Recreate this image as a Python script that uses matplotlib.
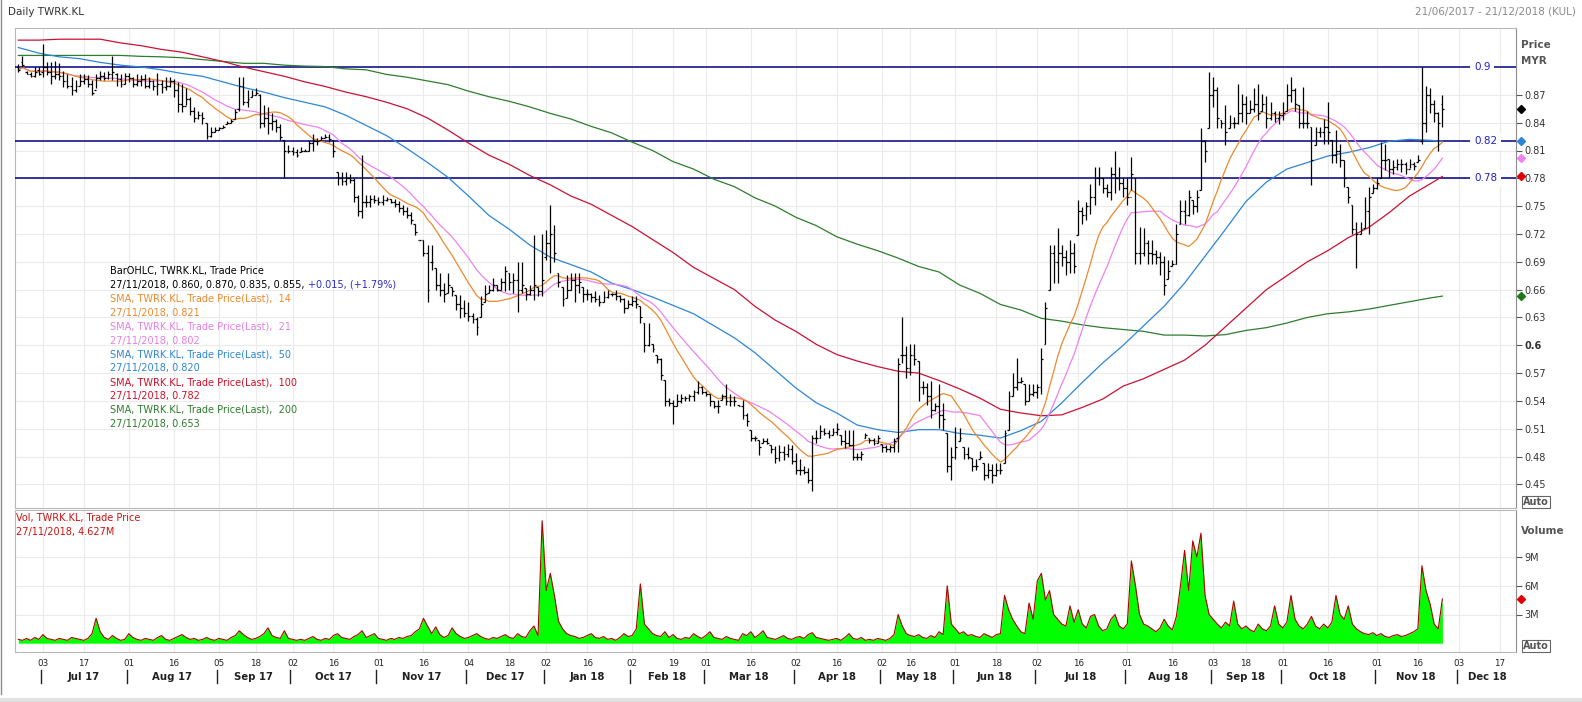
import numpy as np
import pandas as pd
import matplotlib
matplotlib.use("Agg")
import matplotlib.pyplot as plt
from matplotlib.collections import LineCollection
from matplotlib.lines import Line2D
import matplotlib.transforms as mtransforms

plt.rcParams['font.family'] = ['DejaVu Sans']

# ---------------- data ----------------
start_date = "2017-06-21"
axis_end_date = "2018-12-21"
holidays = ["2017-06-26", "2017-06-27", "2017-08-31", "2017-09-01", "2017-09-04",
            "2017-09-22", "2017-10-18", "2017-12-01", "2017-12-25", "2018-01-01",
            "2018-01-31", "2018-02-01", "2018-02-16", "2018-05-01", "2018-05-09",
            "2018-05-10", "2018-05-11", "2018-05-29", "2018-06-15", "2018-08-22",
            "2018-08-31", "2018-09-10", "2018-09-11", "2018-09-17", "2018-11-06",
            "2018-11-20"]

opens = [
    .900, .905, .895, .893, .890, .897, .895, .900, .895, .890,
    .893, .890, .885, .880, .875, .880, .885, .887, .882, .875,
    .888, .890, .888, .893, .893, .887, .882, .890, .888, .882,
    .885, .887, .880, .885, .880, .882, .878, .880, .885, .875,
    .860, .858, .865, .853, .845, .848, .840, .826, .830, .832,
    .834, .839, .840, .844, .855, .880, .862, .868, .870, .870,
    .840, .845, .840, .842, .835, .821, .810, .810, .808, .808,
    .810, .810, .818, .820, .821, .823, .825, .821, .787, .780,
    .777, .780, .778, .760, .745, .755, .755, .758, .757, .755,
    .757, .758, .755, .752, .748, .745, .740, .731, .714, .714,
    .700, .690, .683, .665, .660, .656, .663, .654, .645, .640,
    .635, .632, .628, .631, .647, .656, .660, .665, .660, .668,
    .678, .668, .670, .660, .662, .655, .660, .663, .658, .695,
    .710, .720, .678, .663, .651, .660, .670, .665, .663, .655,
    .655, .652, .650, .647, .652, .655, .655, .653, .650, .640,
    .645, .648, .642, .624, .600, .601, .590, .585, .563, .540,
    .538, .535, .540, .543, .543, .545, .550, .555, .550, .548,
    .540, .535, .541, .545, .540, .540, .536, .535, .525,
    .509, .500, .498, .495, .497, .493, .488, .478, .485, .483,
    .488, .475, .465, .465, .463, .455, .500, .500, .508, .505,
    .503, .507, .503, .497, .495, .493, .480, .480, .500, .500,
    .498, .495, .494, .490, .488, .490, .500, .590, .590, .575,
    .590, .583, .555, .555, .545, .530, .535, .525, .505, .470,
    .480, .497, .490, .483, .479, .470, .477, .473, .460, .465,
    .460, .465, .473, .509, .545, .555, .560, .558, .540, .548,
    .550, .555, .601, .660, .700, .690, .700, .695, .690, .700,
    .719, .745, .740, .750, .760, .780, .780, .770, .765, .785,
    .780, .775, .770, .760, .780, .700, .700, .710, .700, .698,
    .695, .690, .671, .685, .688, .731, .745, .740, .757, .750,
    .767, .820, .834, .870, .875, .843, .840, .834, .840, .840,
    .850, .860, .850, .855, .860, .853, .860, .845, .850, .845,
    .848, .853, .870, .875, .859, .840, .840, .835, .816, .830,
    .830, .835, .821, .805, .810, .800, .771, .751, .725, .720,
    .726, .745, .764, .770, .780, .800, .801, .790, .792, .795,
    .795, .790, .795, .798, .820, .840, .870, .860, .850, .860]

highs = [
    .903, .912, .896, .895, .900, .900, .925, .905, .905, .907,
    .904, .896, .893, .889, .886, .893, .893, .891, .886, .893,
    .896, .895, .896, .912, .894, .893, .894, .894, .889, .893,
    .891, .893, .889, .886, .894, .886, .889, .889, .887, .884,
    .882, .877, .868, .857, .853, .852, .840, .835, .835, .835,
    .837, .842, .844, .855, .889, .889, .875, .875, .877, .871,
    .859, .857, .850, .844, .839, .821, .816, .814, .812, .814,
    .812, .821, .828, .823, .826, .828, .828, .821, .787, .787,
    .787, .785, .780, .762, .805, .762, .762, .762, .760, .762,
    .760, .758, .758, .756, .751, .749, .744, .731, .714, .714,
    .708, .708, .683, .678, .667, .678, .663, .654, .654, .649,
    .647, .635, .631, .653, .665, .665, .672, .665, .672, .685,
    .678, .678, .690, .690, .662, .665, .719, .663, .720, .724,
    .751, .730, .678, .663, .676, .678, .678, .678, .663, .661,
    .656, .658, .654, .658, .660, .656, .660, .654, .651, .649,
    .653, .653, .642, .624, .624, .601, .590, .586, .563, .543,
    .541, .548, .547, .545, .547, .552, .561, .556, .551, .548,
    .540, .541, .548, .558, .547, .545, .536, .541, .527,
    .509, .502, .498, .500, .500, .493, .491, .493, .491, .494,
    .493, .484, .477, .470, .468, .503, .509, .514, .511, .509,
    .511, .516, .503, .509, .509, .509, .484, .486, .505, .500,
    .500, .503, .494, .493, .493, .500, .586, .630, .599, .601,
    .601, .583, .561, .559, .561, .538, .558, .538, .505, .490,
    .512, .511, .490, .490, .479, .477, .486, .473, .473, .472,
    .473, .473, .509, .551, .570, .586, .566, .558, .558, .558,
    .558, .597, .647, .708, .708, .726, .708, .703, .713, .710,
    .757, .749, .755, .774, .792, .792, .780, .774, .792, .810,
    .792, .780, .780, .803, .780, .728, .726, .713, .713, .703,
    .701, .696, .692, .692, .731, .757, .757, .767, .757, .767,
    .834, .821, .895, .889, .878, .843, .859, .848, .846, .882,
    .871, .869, .864, .877, .882, .871, .869, .862, .853, .853,
    .862, .882, .889, .877, .859, .878, .853, .835, .835, .835,
    .844, .862, .821, .832, .817, .800, .771, .751, .733, .733,
    .760, .771, .774, .780, .819, .817, .801, .800, .801, .801,
    .798, .801, .798, .805, .900, .880, .877, .864, .852, .870]

lows = [
    .895, .900, .893, .889, .889, .891, .889, .891, .882, .887,
    .886, .878, .877, .870, .873, .880, .882, .878, .870, .877,
    .886, .886, .887, .886, .880, .878, .882, .884, .878, .880,
    .880, .877, .877, .875, .870, .872, .875, .878, .868, .852,
    .852, .859, .848, .841, .844, .839, .822, .825, .830, .832,
    .834, .839, .840, .844, .853, .859, .857, .868, .870, .834,
    .835, .828, .832, .830, .821, .780, .807, .805, .803, .808,
    .810, .810, .810, .816, .821, .823, .819, .803, .773, .773,
    .773, .775, .755, .739, .737, .749, .749, .753, .751, .751,
    .756, .753, .749, .744, .740, .737, .731, .719, .713, .696,
    .647, .681, .660, .653, .647, .656, .653, .638, .629, .631,
    .626, .624, .611, .631, .647, .656, .658, .658, .660, .658,
    .660, .656, .636, .656, .649, .654, .649, .653, .653, .692,
    .678, .690, .663, .642, .651, .660, .647, .656, .647, .649,
    .647, .647, .642, .647, .651, .653, .649, .647, .635, .640,
    .642, .640, .624, .593, .599, .593, .581, .563, .534, .534,
    .515, .534, .538, .540, .540, .540, .548, .547, .545, .534,
    .532, .527, .541, .536, .534, .534, .534, .520, .513,
    .497, .497, .482, .495, .494, .484, .473, .475, .476, .480,
    .472, .461, .460, .461, .452, .443, .495, .500, .503, .500,
    .503, .503, .493, .489, .491, .476, .476, .476, .500, .495,
    .493, .495, .485, .485, .485, .485, .485, .581, .565, .568,
    .579, .540, .548, .536, .522, .529, .511, .509, .463, .455,
    .477, .497, .477, .477, .464, .466, .477, .455, .457, .452,
    .459, .461, .473, .509, .545, .552, .559, .536, .540, .545,
    .543, .548, .601, .660, .667, .667, .685, .676, .678, .678,
    .719, .731, .735, .742, .751, .773, .764, .760, .757, .764,
    .767, .760, .751, .767, .688, .688, .696, .688, .688, .688,
    .676, .654, .671, .685, .688, .731, .731, .739, .742, .744,
    .767, .798, .834, .857, .834, .834, .816, .834, .834, .839,
    .841, .839, .850, .852, .843, .853, .834, .843, .841, .839,
    .843, .853, .862, .853, .834, .834, .834, .773, .816, .825,
    .817, .817, .796, .796, .792, .771, .753, .720, .683, .720,
    .726, .720, .764, .769, .780, .789, .780, .785, .789, .787,
    .785, .791, .789, .798, .817, .830, .850, .841, .810, .835]

closes = [
    .897, .902, .893, .890, .895, .893, .900, .895, .890, .893,
    .890, .885, .880, .875, .880, .885, .887, .882, .872, .888,
    .890, .888, .893, .895, .887, .882, .890, .888, .882, .885,
    .887, .880, .885, .880, .882, .878, .880, .885, .875, .860,
    .858, .865, .853, .845, .848, .845, .826, .830, .832, .834,
    .835, .840, .842, .852, .880, .862, .865, .870, .872, .840,
    .845, .840, .842, .835, .825, .810, .810, .808, .805, .810,
    .810, .818, .820, .820, .823, .825, .822, .810, .780, .777,
    .780, .778, .760, .745, .755, .755, .758, .757, .755, .757,
    .758, .755, .752, .748, .745, .740, .735, .722, .714, .700,
    .660, .690, .665, .660, .655, .665, .658, .645, .640, .635,
    .632, .628, .620, .645, .655, .660, .665, .660, .668, .680,
    .668, .670, .660, .665, .655, .660, .665, .658, .670, .710,
    .720, .700, .668, .650, .660, .670, .665, .668, .655, .655,
    .652, .650, .647, .652, .655, .655, .653, .650, .640, .645,
    .648, .645, .630, .600, .610, .596, .585, .568, .540, .538,
    .535, .540, .543, .543, .545, .550, .555, .550, .548, .540,
    .535, .535, .545, .540, .540, .540, .535, .525, .518,
    .500, .500, .490, .497, .495, .488, .478, .485, .483, .488,
    .475, .465, .465, .463, .455, .500, .500, .508, .505, .503,
    .507, .510, .497, .495, .493, .480, .480, .483, .503, .498,
    .495, .500, .490, .488, .490, .497, .580, .590, .575, .590,
    .585, .555, .555, .545, .530, .535, .525, .520, .470, .480,
    .490, .500, .483, .480, .470, .470, .480, .460, .465, .460,
    .465, .465, .505, .545, .555, .560, .562, .540, .548, .550,
    .555, .585, .640, .700, .690, .700, .695, .690, .700, .685,
    .745, .740, .750, .760, .780, .780, .770, .765, .785, .780,
    .775, .770, .760, .785, .700, .700, .710, .700, .698, .695,
    .690, .665, .680, .688, .720, .745, .740, .760, .750, .760,
    .820, .810, .870, .875, .845, .840, .830, .840, .840, .850,
    .860, .850, .855, .860, .850, .860, .845, .850, .845, .848,
    .850, .870, .875, .860, .840, .840, .840, .800, .830, .830,
    .835, .830, .805, .810, .800, .780, .760, .725, .720, .725,
    .745, .760, .770, .775, .800, .800, .790, .792, .795, .795,
    .790, .795, .793, .800, .840, .870, .860, .850, .840, .855]

volumes_m = [
    0.4, 0.3, 0.5, 0.3, 0.6, 0.4, 0.9, 0.5, 0.4, 0.3,
    0.5, 0.4, 0.3, 0.6, 0.5, 0.4, 0.3, 0.5, 1.0, 2.6,
    1.2, 0.6, 0.4, 0.8, 0.5, 0.3, 0.4, 1.0, 0.6, 0.4,
    0.3, 0.5, 0.4, 0.3, 0.6, 0.8, 0.4, 0.3, 0.5, 0.7,
    0.9, 0.6, 0.4, 0.5, 0.3, 0.4, 0.6, 0.4, 0.3, 0.5,
    0.4, 0.3, 0.6, 0.8, 1.3, 0.9, 0.6, 0.4, 0.5, 0.7,
    1.0, 1.6, 0.8, 0.6, 0.5, 1.3, 0.5, 0.4, 0.3, 0.4,
    0.3, 0.5, 0.7, 0.4, 0.3, 0.5, 0.4, 0.8, 1.0, 0.6,
    0.5, 0.4, 0.7, 0.9, 1.3, 0.6, 0.8, 1.0, 0.5, 0.4,
    0.3, 0.5, 0.4, 0.6, 0.5, 0.7, 0.8, 1.2, 1.5, 2.6,
    1.8, 1.0, 1.7, 0.9, 0.6, 0.8, 1.6, 1.0, 0.7, 0.5,
    0.6, 0.8, 1.0, 0.7, 0.5, 0.4, 0.6, 0.5, 0.7, 0.9,
    0.6, 0.5, 1.0, 0.7, 0.6, 1.3, 1.8, 0.8, 12.8, 5.5,
    7.3, 5.0, 2.3, 1.5, 1.0, 0.8, 0.7, 0.5, 0.6, 0.8,
    1.0, 0.6, 0.5, 0.7, 0.4, 0.5, 0.3, 0.6, 1.0, 0.7,
    0.8, 1.5, 6.2, 2.0, 1.5, 1.0, 0.8, 0.7, 1.2, 0.6,
    0.9, 0.5, 0.4, 0.6, 0.5, 1.0, 0.7, 0.5, 0.8, 1.2,
    0.6, 0.5, 0.4, 0.7, 0.5, 0.4, 0.3, 1.0, 0.8,
    1.2, 0.6, 0.9, 1.3, 0.6, 0.5, 0.4, 0.6, 0.8, 0.5,
    0.4, 0.6, 0.7, 0.5, 0.9, 1.1, 0.6, 0.5, 0.4, 0.3,
    0.4, 0.5, 0.3, 0.6, 1.0, 0.5, 0.4, 0.6, 0.3, 0.4,
    0.3, 0.5, 0.4, 0.3, 0.5, 0.9, 3.0, 1.8, 1.0, 0.8,
    0.7, 0.9, 0.6, 0.5, 0.8, 0.6, 1.2, 0.9, 6.0, 2.0,
    1.5, 1.0, 1.2, 0.8, 0.9, 0.7, 0.6, 1.0, 0.8, 0.6,
    0.9, 1.0, 5.0, 3.5, 2.5, 1.8, 1.2, 1.0, 4.2, 2.5,
    6.5, 7.3, 4.5, 5.5, 3.0, 2.5, 2.0, 1.8, 3.9, 2.2,
    3.5, 2.0, 1.6, 2.8, 3.0, 1.8, 1.3, 1.5, 2.5, 3.0,
    1.8, 1.5, 2.0, 8.6, 6.0, 3.0, 2.0, 1.8, 1.5, 1.2,
    1.6, 2.5, 1.8, 1.4, 2.8, 6.0, 9.7, 5.5, 10.7, 9.0,
    11.5, 5.0, 3.0, 2.5, 2.0, 1.6, 2.2, 1.8, 4.4, 2.0,
    1.5, 1.8, 1.4, 1.2, 2.0, 1.5, 1.3, 1.8, 3.9, 2.0,
    1.6, 2.2, 5.0, 2.5, 1.8, 1.5, 2.0, 2.8, 1.8, 1.5,
    2.0, 1.6, 2.2, 5.0, 3.0, 2.5, 3.9, 2.0, 1.5, 1.2,
    1.0, 0.9, 1.1, 0.8, 1.0, 0.7, 0.6, 0.8, 0.9, 0.7,
    0.8, 1.0, 1.2, 1.5, 8.1, 5.5, 4.1, 2.0, 1.5, 4.627]

# moving averages, one value every `sma_sample_step` bars (+ last bar)
sma_sample_step = 5
sma50_samples = [
    .921, .915, .911, .909, .905, .902, .900, .897, .893, .890,
    .884, .878, .873, .867, .862, .857, .848, .837, .826, .812,
    .797, .781, .761, .740, .725, .708, .695, .687, .679, .667,
    .660, .652, .643, .634, .621, .608, .592, .573, .554, .538,
    .527, .514, .509, .506, .509, .509, .505, .503, .500, .508,
    .518, .538, .560, .581, .600, .621, .642, .667, .696, .725,
    .755, .776, .790, .797, .804, .808, .813, .820, .822, .821,
    .820]
sma100_samples = [
    .929, .929, .930, .930, .930, .926, .923, .919, .916, .911,
    .906, .900, .895, .890, .884, .879, .873, .868, .862, .855,
    .845, .832, .818, .805, .795, .783, .773, .761, .752, .740,
    .728, .714, .700, .684, .672, .660, .642, .627, .615, .601,
    .590, .583, .577, .572, .570, .562, .553, .543, .531, .527,
    .524, .525, .533, .542, .556, .564, .574, .584, .600, .620,
    .640, .660, .675, .690, .702, .716, .727, .743, .761, .774,
    .782]
sma200_samples = [
    .9125, .9125, .9125, .9125, .9125, .9125, .9115, .911, .910, .908,
    .906, .904, .904, .902, .901, .9005, .898, .897, .892, .889,
    .885, .881, .874, .868, .863, .857, .850, .844, .836, .829,
    .819, .810, .798, .790, .779, .771, .759, .750, .738, .729,
    .717, .709, .702, .694, .685, .679, .665, .656, .644, .638,
    .629, .626, .622, .619, .617, .615, .611, .611, .610, .6115,
    .616, .619, .624, .630, .634, .636, .639, .643, .647, .651,
    .653]

h_levels = [0.9, 0.82, 0.78]
h_labels = ["0.9", "0.82", "0.78"]
price_ticks = [0.45, 0.48, 0.51, 0.54, 0.57, 0.60, 0.63, 0.66, 0.69, 0.72,
               0.75, 0.78, 0.81, 0.84, 0.87]
volume_ticks = [3, 6, 9]
volume_tick_labels = ["3M", "6M", "9M"]

last_date = "27/11/2018"
last_ohlc = ["0.860", "0.870", "0.835", "0.855"]
last_change = "+0.015, (+1.79%)"
sma_names = ["14", "21", "50", "100", "200"]
sma_last = ["0.821", "0.802", "0.820", "0.782", "0.653"]
last_volume = "4.627M"

# ---------------- colours ----------------
C_ORANGE = '#EC8A2C'
C_PINK = '#EE82EE'
C_BLUE = '#2C86D8'
C_RED = '#CC1133'
C_GREEN = '#2E7D2E'
C_HLINE = '#000080'
C_GRID = '#ebebeb'

# ---------------- derived ----------------
n = len(closes)
idx = np.arange(n)
all_days = pd.bdate_range(start_date, axis_end_date, freq="C", holidays=holidays)
pos = pd.Series(np.arange(len(all_days)), index=all_days)

cl = pd.Series(closes)
sma14 = cl.rolling(14, min_periods=1).mean()
sma21 = cl.rolling(21, min_periods=1).mean()
sample_idx = list(range(0, n, sma_sample_step))
if sample_idx[-1] != n - 1:
    sample_idx.append(n - 1)

# ---------------- figure ----------------
W, H = 1582, 702
fig = plt.figure(figsize=(W / 100, H / 100), dpi=100)
fig.patch.set_facecolor('white')


def fx(px):
    return px / W


def fy(py):
    return 1 - py / H


L, R = 15, 1516
P_TOP, P_BOT = 28, 508
V_TOP, V_BOT = 510, 652
px_per_bar = 4.092
x0_px = 18.35
xmin = (L - x0_px) / px_per_bar
xmax = (R - x0_px) / px_per_bar

ax = fig.add_axes([fx(L), fy(P_BOT), fx(R) - fx(L), fy(P_TOP) - fy(P_BOT)])
axv = fig.add_axes([fx(L), fy(V_BOT), fx(R) - fx(L), fy(V_TOP) - fy(V_BOT)], sharex=ax)

ppu = 927.5
ax.set_ylim(0.87 - (P_BOT - 94.85) / ppu, 0.87 + (94.85 - P_TOP) / ppu)
ax.set_xlim(xmin, xmax)
vpm = 28.7 / 3
axv.set_ylim(-(V_BOT - 643.2) / vpm, (643.2 - V_TOP) / vpm)

# ticks: first trading day of month and first trading day on/after the 16th
day_ticks, month_marks = [], []
for (yy, mm), grp in pos.groupby([all_days.year, all_days.month]):
    if grp.index[0].day > 7:
        continue
    day_ticks.append((grp.iloc[0], grp.index[0].day))
    mid = grp[grp.index.day >= 16]
    if len(mid):
        day_ticks.append((mid.iloc[0], mid.index[0].day))
    month_marks.append((grp.iloc[0], (grp.iloc[0] + grp.iloc[-1]) / 2,
                        grp.index[0].strftime("%b %y")))

for a in (ax, axv):
    a.set_xticks([p for p, _ in day_ticks])
    a.tick_params(axis='x', length=0, labelbottom=False)
    a.grid(True, color=C_GRID, lw=0.8)
    a.set_axisbelow(True)
    a.yaxis.tick_right()
    a.tick_params(axis='y', direction='out', length=4, width=0.8, pad=2,
                  labelsize=7, labelcolor='#333333', color='#555555')
    for s in a.spines.values():
        s.set_color('#b8b8b8')
        s.set_linewidth(0.8)
    a.spines['right'].set_color('#8c8c8c')

ax.set_yticks(price_ticks)
ax.set_yticklabels([f"{v:.2f}".rstrip('0') for v in price_ticks])
for t in ax.get_yticklabels():
    if t.get_text() == "0.6":
        t.set_fontweight('bold')
axv.set_yticks(volume_ticks)
axv.set_yticklabels(volume_tick_labels)

# horizontal levels
trb = mtransforms.blended_transform_factory(ax.transAxes, ax.transData)
for lv, lb in zip(h_levels, h_labels):
    ax.axhline(lv, color=C_HLINE, lw=1.1, zorder=3)
    ax.text((1474 - L) / (R - L), lv, lb, transform=trb, ha='left', va='center',
            fontsize=7.5, color='#2020c8', zorder=4,
            bbox=dict(boxstyle='square,pad=0.35', fc='white', ec='none'))

# moving averages
ax.plot(sample_idx, sma200_samples, color=C_GREEN, lw=0.9, zorder=4)
ax.plot(sample_idx, sma100_samples, color=C_RED, lw=0.9, zorder=4)
ax.plot(sample_idx, sma50_samples, color=C_BLUE, lw=0.9, zorder=4)
ax.plot(idx, sma21, color=C_PINK, lw=0.9, zorder=4)
ax.plot(idx, sma14, color=C_ORANGE, lw=0.9, zorder=4)

# OHLC bars
segs = []
for i, (o, h, l, c) in enumerate(zip(opens, highs, lows, closes)):
    segs.append([(i, l), (i, h)])
    segs.append([(i - 0.45, o), (i, o)])
    segs.append([(i, c), (i + 0.45, c)])
ax.add_collection(LineCollection(segs, colors='black', linewidths=0.9, zorder=5))

# last-value diamonds on the price axis
for val, col in [(closes[-1], 'black'), (sma50_samples[-1], C_BLUE),
                 (float(sma_last[1]), C_PINK), (sma100_samples[-1], '#e00000'),
                 (sma200_samples[-1], '#1a7a1a')]:
    ax.plot([1.003], [val], marker='D', ms=4.2, color=col, transform=trb,
            clip_on=False, zorder=10)

# volume
axv.fill_between(idx, 0, volumes_m, color='#00ff00', lw=0, zorder=2)
axv.plot(idx, volumes_m, color='#b00000', lw=0.8, zorder=3)
trv = mtransforms.blended_transform_factory(axv.transAxes, axv.transData)
axv.plot([1.003], [volumes_m[-1]], marker='D', ms=4.2, color='#e00000',
         transform=trv, clip_on=False, zorder=10)

# x labels
trx = mtransforms.blended_transform_factory(ax.transData, fig.transFigure)
for p, d in day_ticks:
    fig.text(p, fy(663.5), f"{d:02d}", transform=trx, ha='center', va='center',
             fontsize=6.3, color='#222222')
for first, center, lab in month_marks:
    fig.text(center, fy(676.5), lab, transform=trx, ha='center', va='center',
             fontsize=7.3, fontweight='bold', color='#222222')
    fig.add_artist(Line2D([first - 0.5, first - 0.5], [fy(670), fy(683)],
                          transform=trx, color='#222222', lw=1.0))

# outer frame (left rule and bottom band)
fig.add_artist(Line2D([fx(1), fx(1)], [fy(0), fy(694)], transform=fig.transFigure,
                      color='#8c8c8c', lw=1.0))
fig.add_artist(Line2D([0, 1], [fy(700), fy(700)], transform=fig.transFigure,
                      color='#e2e2e2', lw=3.0))

# header
fig.text(fx(8), fy(12), "Daily TWRK.KL", fontsize=7.5, color='#333333',
         ha='left', va='center')
fig.text(fx(1576), fy(12), "21/06/2017 - 21/12/2018 (KUL)", fontsize=7.5,
         color='#8a8a8a', ha='right', va='center')

# right panel headers
fig.text(fx(1521), fy(45.5), "Price", fontsize=7.5, fontweight='bold',
         color='#555555', ha='left', va='center')
fig.text(fx(1521), fy(61), "MYR", fontsize=7.5, fontweight='bold',
         color='#555555', ha='left', va='center')
fig.text(fx(1521), fy(531), "Volume", fontsize=7.5, fontweight='bold',
         color='#555555', ha='left', va='center')
for yy in (502, 646):
    fig.text(fx(1523), fy(yy), "Auto", fontsize=7, fontweight='bold',
             color='#555555', ha='left', va='center',
             bbox=dict(boxstyle='square,pad=0.15', fc='white', ec='#666666', lw=0.8))

# legend text block
leg_x, leg_y, leg_dy = 110, 271, 13.9
rows = [("BarOHLC, TWRK.KL, Trade Price", 'black')]
rows.append((f"{last_date}, " + ", ".join(last_ohlc) + ", ", 'black'))
sma_cols = [C_ORANGE, '#E57FE5', C_BLUE, '#D0102A', C_GREEN]
for nm, lv, col in zip(sma_names, sma_last, sma_cols):
    rows.append((f"SMA, TWRK.KL, Trade Price(Last),  {nm}", col))
    rows.append((f"{last_date}, {lv}", col))
renderer = fig.canvas.get_renderer()
for k, (txt, col) in enumerate(rows):
    t = fig.text(fx(leg_x), fy(leg_y + k * leg_dy), txt, fontsize=7, color=col,
                 ha='left', va='center')
    if k == 1:
        bb = t.get_window_extent(renderer=renderer)
        fig.text(bb.x1 / W, fy(leg_y + k * leg_dy), last_change, fontsize=7,
                 color='#2a2ad0', ha='left', va='center')

# volume legend
fig.text(fx(16), fy(517.5), "Vol, TWRK.KL, Trade Price", fontsize=7,
         color='#d01010', ha='left', va='center')
fig.text(fx(16), fy(531.5), f"{last_date}, {last_volume}", fontsize=7,
         color='#d01010', ha='left', va='center')

fig.savefig("out.png", dpi=100, facecolor='white')
